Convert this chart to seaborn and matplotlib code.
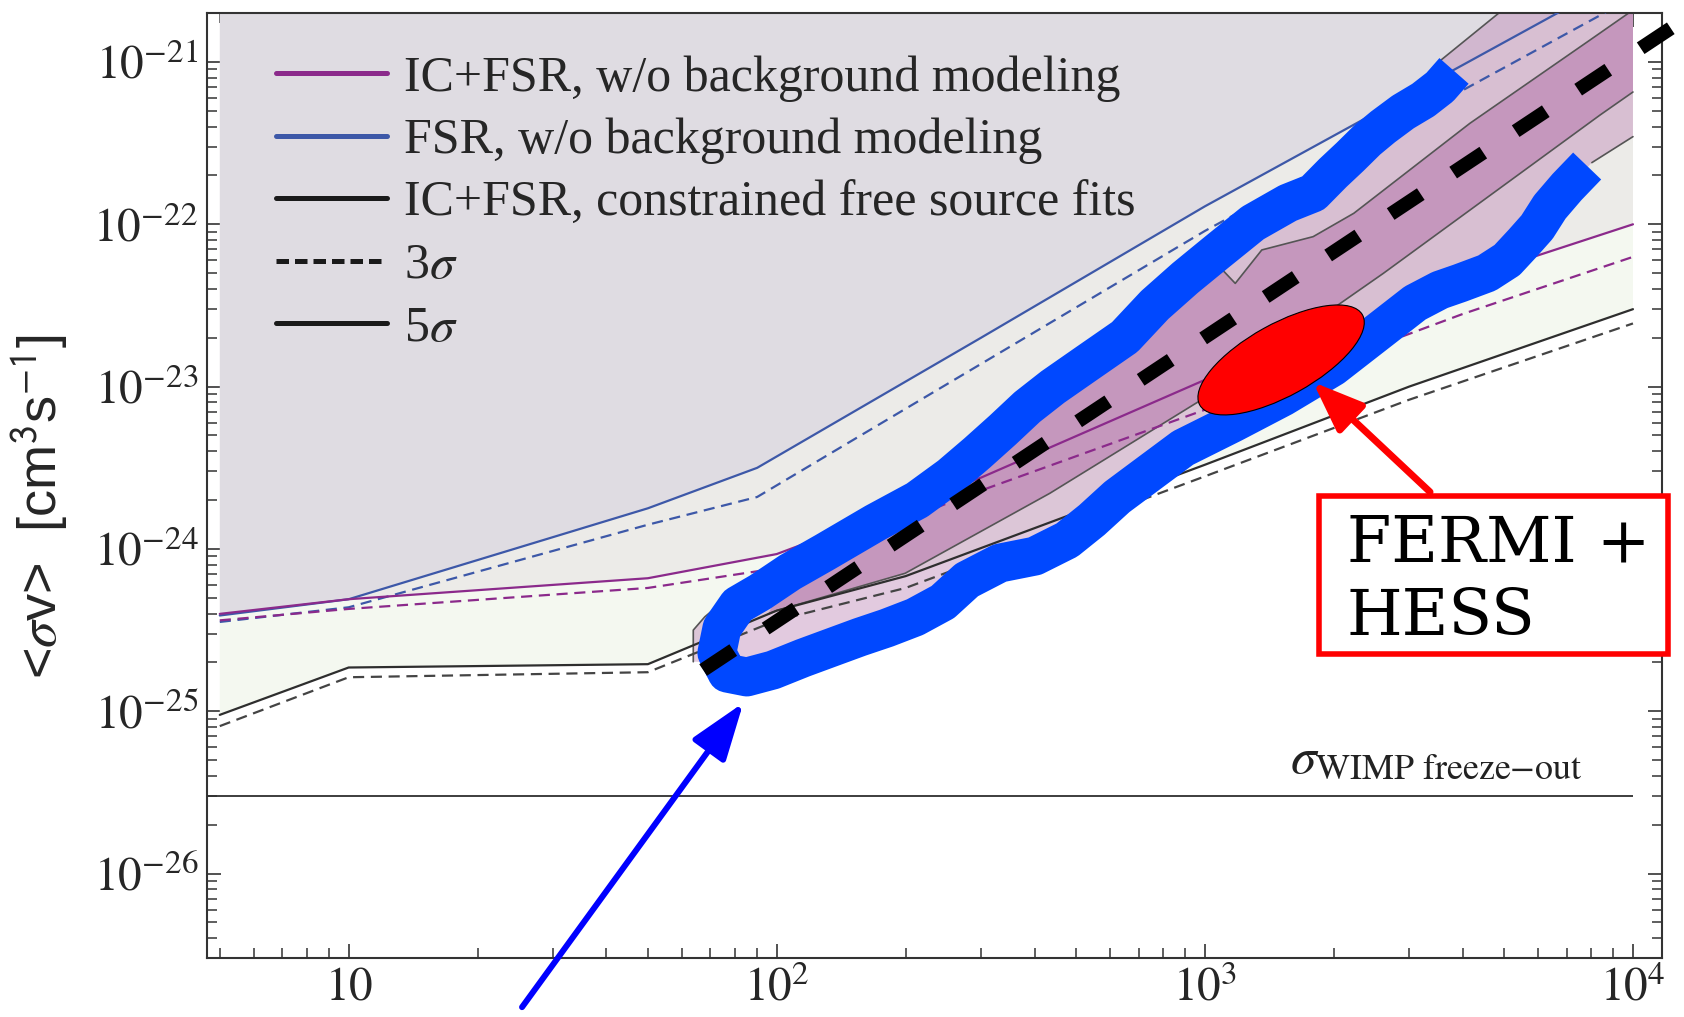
import numpy as np
import matplotlib
matplotlib.use("Agg")
import matplotlib.pyplot as plt
import seaborn as sns
import matplotlib.transforms as mtransforms
from matplotlib.patches import Ellipse, Rectangle, ArrowStyle
from matplotlib.lines import Line2D
from matplotlib.ticker import FixedLocator, FixedFormatter, LogLocator, NullFormatter

# ---------------- data ----------------
# FSR, w/o background modeling  (blue)
mass_fsr = [5, 10, 50, 90, 300, 1000, 10000]
fsr_5sig = [3.89e-25, 4.90e-25, 1.78e-24, 3.16e-24, 2.0e-23, 1.29e-22, 3.6e-21]
fsr_3sig = [3.55e-25, 4.37e-25, 1.41e-24, 2.09e-24, 1.38e-23, 9.1e-23, 2.5e-21]
# IC+FSR, w/o background modeling (purple)
mass_ic5 = [5, 10, 50, 100, 300, 1000, 5000, 10000]
ic_5sig = [3.98e-25, 4.90e-25, 6.6e-25, 9.3e-25, 2.75e-24, 1.1e-23, 5.5e-23, 1.0e-22]
mass_ic3 = [5, 10, 50, 100, 300, 1000, 4000, 10000]
ic_3sig = [3.63e-25, 4.27e-25, 5.75e-25, 7.6e-25, 2.29e-24, 7.2e-24, 2.8e-23, 6.3e-23]
# IC+FSR, constrained free source fits (black)
mass_con = [5, 10, 50, 100, 200, 1000, 3000, 10000]
con_5sig = [9.5e-26, 1.86e-25, 1.95e-25, 4.17e-25, 6.8e-25, 3.3e-24, 1.0e-23, 3.0e-23]
con_3sig = [8.1e-26, 1.62e-25, 1.74e-25, 3.63e-25, 5.75e-25, 2.8e-24, 8.3e-24, 2.45e-23]
sigma_wimp = 3.0e-26

# best-fit band (log10 mass, log10 <sigma v>)
outer_up_logm = [1.805, 1.805, 1.832, 1.898, 2.031, 2.229, 2.405, 2.585, 2.725, 2.883, 3.028,
                 3.194, 3.299, 3.416, 3.510, 3.547, 3.686, 3.75, 4.0]
outer_up_logsv = [-24.695, -24.50, -24.418, -24.273, -24.142, -23.840, -23.551, -23.126, -22.855,
                  -22.497, -22.171, -21.869, -21.684, -21.400, -21.234, -20.998, -20.70, -20.57, -20.30]
outer_lo_logm = [4.0, 3.904, 3.806, 3.743, 3.659, 3.549, 3.416, 3.299, 3.182, 3.066, 2.949, 2.848,
                 2.736, 2.603, 2.521, 2.444, 2.323, 2.194, 2.061, 1.930, 1.860, 1.81]
outer_lo_logsv = [-21.46, -21.62, -21.893, -22.115, -22.300, -22.405, -22.639, -22.879, -23.064,
                  -23.224, -23.378, -23.576, -23.822, -24.044, -24.087, -24.192, -24.420, -24.543,
                  -24.672, -24.789, -24.70, -24.695]
inner_up_logm = [1.98, 2.031, 2.229, 2.405, 2.585, 2.725, 2.883, 2.954, 3.03, 3.071, 3.133, 3.253,
                 3.348, 3.619, 3.900, 4.0]
inner_up_logsv = [-24.40, -24.142, -23.840, -23.551, -23.126, -22.855, -22.497, -22.331, -22.25,
                  -22.364, -22.158, -22.076, -21.932, -21.378, -20.864, -20.68]
inner_lo_logm = [4.0, 3.923, 3.417, 3.004, 2.638, 2.30, 2.0, 1.98]
inner_lo_logsv = [-21.185, -21.327, -22.302, -23.062, -23.657, -24.15, -24.38, -24.40]
tip_logm = [1.898, 1.832, 1.805, 1.805]
tip_logsv = [-24.273, -24.418, -24.50, -24.695]

# hand-drawn highlight (blue outline) along the band
hl_logm = [3.582, 3.549, 3.510, 3.463, 3.416, 3.379, 3.339, 3.299, 3.253, 3.194, 3.112, 3.028,
           2.954, 2.883, 2.813, 2.725, 2.645, 2.585, 2.528, 2.468, 2.405, 2.328, 2.229, 2.113,
           2.031, 1.961, 1.909, 1.872, 1.860, 1.884, 1.930,
           1.991, 2.061, 2.131, 2.194, 2.257, 2.323, 2.388, 2.444, 2.521, 2.603, 2.678, 2.736,
           2.795, 2.848, 2.949, 3.066, 3.182, 3.299, 3.416, 3.491, 3.549, 3.596, 3.659, 3.706,
           3.743, 3.776, 3.806, 3.846, 3.893]
hl_logsv = [-21.055, -21.154, -21.234, -21.308, -21.400, -21.481, -21.585, -21.684, -21.807,
            -21.869, -21.992, -22.171, -22.331, -22.497, -22.694, -22.855, -23.002, -23.126,
            -23.267, -23.409, -23.551, -23.699, -23.840, -24.019, -24.142, -24.266, -24.346,
            -24.487, -24.641, -24.765, -24.789,
            -24.746, -24.672, -24.604, -24.543, -24.487, -24.420, -24.327, -24.192, -24.087,
            -24.044, -23.945, -23.822, -23.680, -23.576, -23.378, -23.224, -23.064, -22.879,
            -22.639, -22.485, -22.405, -22.362, -22.300, -22.220, -22.115, -22.017, -21.893,
            -21.770, -21.641]
trend_logm = [1.828, 4.2]
trend_logsv = [-24.746, -20.597]
fermi_hess_center = (1507, 1.46e-23)
red_arrow_tip = (10 ** 3.2525, 10 ** -22.972)
red_arrow_tail = (10 ** 3.526, 10 ** -23.649)
blue_arrow_tip = (10 ** 1.922, 10 ** -24.948)
blue_arrow_tail = (10 ** 1.405, 10 ** -26.823)

xticks = [10, 100, 1000, 10000]
xticklabels = [r"$10$", r"$10^{2}$", r"$10^{3}$", r"$10^{4}$"]
yticks = [1e-26, 1e-25, 1e-24, 1e-23, 1e-22, 1e-21]
yticklabels = [r"$10^{-26}$", r"$10^{-25}$", r"$10^{-24}$", r"$10^{-23}$", r"$10^{-22}$", r"$10^{-21}$"]
xlim = (4.66, 11690)
ylim = (3.006e-27, 1.995e-21)

legend_labels = ["IC+FSR, w/o background modeling", "FSR, w/o background modeling",
                 "IC+FSR, constrained free source fits", r"3$\sigma$", r"5$\sigma$"]

# ---------------- style ----------------
sns.set_theme(style="white")
plt.rcParams["font.family"] = ["Liberation Serif", "DejaVu Serif"]
plt.rcParams["mathtext.fontset"] = "stix"

C_BLUE = "#3d58a8"
C_PURPLE = "#8b2a8b"
C_BLACK = "#2e2e2e"
C_BLACKD = "#444444"
C_LAV = "#dfdce2"
C_GRAY = "#ecebe8"
C_GREEN = "#f4f8f0"
C_PINK = "#c08ab9"
C_DARK = "#c597bd"
C_OUT = "#555555"
C_HL = "#0048ff"

fig = plt.figure(figsize=(16.84, 10.17), dpi=100)
ax = fig.add_axes([0.12274, 0.05772, 0.86419, 0.92920])
ax.set_xscale("log")
ax.set_yscale("log")
ax.set_xlim(*xlim)
ax.set_ylim(*ylim)


def p10(a):
    return 10 ** np.asarray(a, dtype=float)


# background exclusion shading
ax.fill(np.r_[mass_fsr, [10000, 5]], np.r_[fsr_5sig, [1e-19, 1e-19]], color=C_LAV, lw=0, zorder=1)
ax.fill(np.r_[mass_fsr, mass_ic5[::-1]], np.r_[fsr_5sig, ic_5sig[::-1]], color=C_GRAY, lw=0, zorder=1)
ax.fill(np.r_[mass_ic5, mass_con[::-1]], np.r_[ic_5sig, con_5sig[::-1]], color=C_GREEN, lw=0, zorder=1)

# best-fit band
ax.fill(p10(outer_up_logm + outer_lo_logm), p10(outer_up_logsv + outer_lo_logsv),
        color=C_PINK, alpha=0.45, lw=0, zorder=2)
ax.fill(p10(inner_up_logm + inner_lo_logm), p10(inner_up_logsv + inner_lo_logsv),
        color=C_DARK, lw=0, zorder=2.1)
for lm, ls in [(inner_up_logm[8:], inner_up_logsv[8:]), (inner_lo_logm, inner_lo_logsv),
               (tip_logm, tip_logsv), (outer_up_logm[15:18], outer_up_logsv[15:18]),
               (outer_lo_logm[:2], outer_lo_logsv[:2])]:
    ax.plot(p10(lm), p10(ls), color=C_OUT, lw=1.2, zorder=2.2)

# limit curves
line_kw = dict(ax=ax, estimator=None, sort=False, zorder=3, legend=False)
sns.lineplot(x=mass_fsr, y=fsr_5sig, color=C_BLUE, lw=1.6, **line_kw)
sns.lineplot(x=mass_fsr, y=fsr_3sig, color=C_BLUE, lw=1.6, linestyle=(0, (5, 3)), **line_kw)
sns.lineplot(x=mass_ic5, y=ic_5sig, color=C_PURPLE, lw=1.6, **line_kw)
sns.lineplot(x=mass_ic3, y=ic_3sig, color=C_PURPLE, lw=1.6, linestyle=(0, (5, 3)), **line_kw)
sns.lineplot(x=mass_con, y=con_5sig, color=C_BLACK, lw=1.6, **line_kw)
sns.lineplot(x=mass_con, y=con_3sig, color=C_BLACKD, lw=1.6, linestyle=(0, (5, 3)), **line_kw)
ax.hlines(sigma_wimp, xlim[0], 10000, color=C_BLACK, lw=1.3, zorder=3)
ax.text(10 ** 3.199, 10 ** -25.38, r"$\sigma_{\mathrm{WIMP\ freeze{-}out}}$", fontsize=37,
        ha="left", va="baseline", color="#222222", zorder=4)

# highlight annotations
ax.plot(p10(hl_logm), p10(hl_logsv), color=C_HL, lw=28, solid_capstyle="butt",
        solid_joinstyle="round", zorder=5)
ax.plot(p10(trend_logm), p10(trend_logsv), color="black", lw=10, linestyle=(0, (2.6, 2.8)),
        dash_capstyle="butt", clip_on=False, zorder=6)
trans = fig.dpi_scale_trans + mtransforms.ScaledTranslation(*fermi_hess_center, ax.transData)
ax.add_patch(Ellipse((0, 0), 1.86, 0.72, angle=29, transform=trans, facecolor="#ff0000",
                     edgecolor="black", lw=0.8, zorder=7, clip_on=False))
ax.annotate("", xy=red_arrow_tip, xytext=red_arrow_tail, annotation_clip=False, zorder=8,
            arrowprops=dict(arrowstyle=ArrowStyle("-|>", head_length=0.4, head_width=0.155),
                            color="#ff0000", lw=5, mutation_scale=77, shrinkA=0, shrinkB=0))
ax.annotate("", xy=blue_arrow_tip, xytext=blue_arrow_tail, annotation_clip=False, zorder=8,
            arrowprops=dict(arrowstyle=ArrowStyle("-|>", head_length=0.4, head_width=0.14),
                            color="#0000ff", lw=4.3, mutation_scale=88, shrinkA=0, shrinkB=0))

fig.add_artist(Rectangle((0.78325, 0.35693), 0.20724, 0.15536, transform=fig.transFigure,
                         facecolor="white", edgecolor="#ff0000", lw=4, zorder=20))
fig.text(0.7996, 0.4477, "FERMI +", fontfamily="DejaVu Serif", fontsize=46, ha="left",
         va="baseline", color="black", zorder=21)
fig.text(0.7996, 0.3756, "HESS", fontfamily="DejaVu Serif", fontsize=46, ha="left",
         va="baseline", color="black", zorder=21)

# axes, ticks
ax.xaxis.set_major_locator(FixedLocator(xticks))
ax.xaxis.set_major_formatter(FixedFormatter(xticklabels))
ax.yaxis.set_major_locator(FixedLocator(yticks))
ax.yaxis.set_major_formatter(FixedFormatter(yticklabels))
ax.xaxis.set_minor_locator(LogLocator(base=10, subs=np.arange(2, 10), numticks=20))
ax.yaxis.set_minor_locator(LogLocator(base=10, subs=np.arange(2, 10), numticks=20))
ax.xaxis.set_minor_formatter(NullFormatter())
ax.yaxis.set_minor_formatter(NullFormatter())
ax.tick_params(which="both", direction="in", bottom=True, left=True, top=True, right=True,
               color="#333333")
ax.tick_params(which="major", length=10, width=1.2, labelsize=34, pad=6)
ax.tick_params(which="minor", length=7, width=1.1)
for s in ax.spines.values():
    s.set_color("#333333")
    s.set_linewidth(1.5)
ax.set_ylabel(r"<$\sigma$v>  [cm$^{\mathsf{3}}$s$^{\mathsf{-1}}$]", fontfamily="Liberation Sans",
              fontsize=39)
ax.yaxis.set_label_coords(-0.093, 0.4786)
ax.set_xlabel("")

handles = [Line2D([], [], color=C_PURPLE, lw=3.6), Line2D([], [], color=C_BLUE, lw=3.6),
           Line2D([], [], color="#1a1a1a", lw=3.6),
           Line2D([], [], color="#1a1a1a", lw=3.6, linestyle=(0, (2.5, 1.2))),
           Line2D([], [], color="#1a1a1a", lw=3.6)]
leg = ax.legend(handles, legend_labels, loc="upper left", bbox_to_anchor=(0.0476, 0.9555),
                frameon=False, fontsize=36, handlelength=2.22, handletextpad=0.35,
                labelspacing=0.32, borderpad=0, borderaxespad=0)
leg.set_zorder(10)

fig.savefig("out.png", dpi=100)
